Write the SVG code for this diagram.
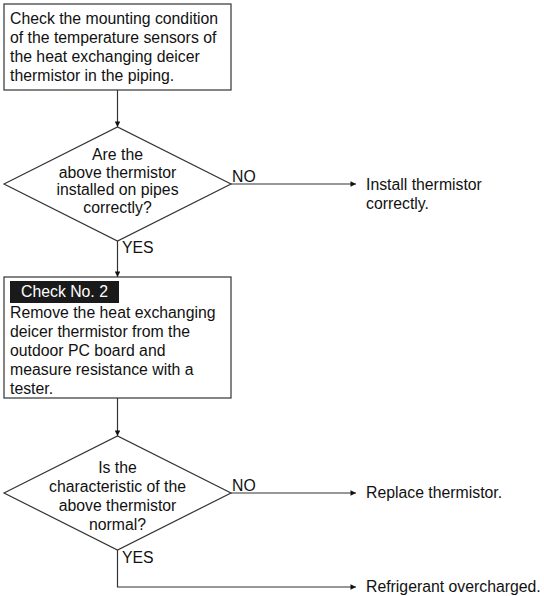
<svg xmlns="http://www.w3.org/2000/svg" width="544" height="596" viewBox="0 0 544 596">
<style>
text{font-family:"Liberation Sans",Arial,sans-serif;font-size:15.8px;fill:#111}
.c{text-anchor:middle}
.shape{fill:#fff;stroke:#333;stroke-width:1.2}
.ln{fill:none;stroke:#333;stroke-width:1.2}
</style>
<defs>
<marker id="ah" viewBox="0 0 10 10" refX="10" refY="5" markerWidth="8" markerHeight="5.5" markerUnits="userSpaceOnUse" orient="auto">
<path d="M0,0 L10,5 L0,10 z" fill="#111"/>
</marker>
</defs>
<rect width="544" height="596" fill="#fff"/>
<g id="connectors">
<line class="ln" x1="117.5" y1="90" x2="117.5" y2="127" marker-end="url(#ah)"/>
<line class="ln" x1="117.5" y1="241" x2="117.5" y2="277" marker-end="url(#ah)"/>
<line class="ln" x1="117.5" y1="398" x2="117.5" y2="436" marker-end="url(#ah)"/>
<line class="ln" x1="231" y1="184" x2="356" y2="184" marker-end="url(#ah)"/>
<line class="ln" x1="231" y1="493" x2="356" y2="493" marker-end="url(#ah)"/>
<polyline class="ln" points="117.5,550 117.5,587 356,587" marker-end="url(#ah)"/>
<text x="232" y="182">NO</text>
<text x="122" y="253">YES</text>
<text x="232" y="491">NO</text>
<text x="122" y="563">YES</text>
</g>
<g id="box1">
<rect class="shape" x="4" y="4" width="227" height="86"/>
<text x="10" y="24">Check the mounting condition</text>
<text x="10" y="43">of the temperature sensors of</text>
<text x="10" y="62">the heat exchanging deicer</text>
<text x="10" y="81">thermistor in the piping.</text>
</g>
<g id="decision1">
<polygon class="shape" points="4,184 117.5,127 231,184 117.5,241"/>
<text class="c" x="117.5" y="160">Are the</text>
<text class="c" x="117.5" y="177.5">above thermistor</text>
<text class="c" x="117.5" y="195">installed on pipes</text>
<text class="c" x="117.5" y="212.5">correctly?</text>
</g>
<g id="result1">
<text x="366" y="190">Install thermistor</text>
<text x="366" y="209">correctly.</text>
</g>
<g id="box2">
<rect class="shape" x="4" y="277" width="227" height="121"/>
<rect x="10" y="281" width="109" height="22" fill="#1a1a1a"/>
<text x="21" y="297" style="fill:#fff">Check No. 2</text>
<text x="10" y="318">Remove the heat exchanging</text>
<text x="10" y="337">deicer thermistor from the</text>
<text x="10" y="356">outdoor PC board and</text>
<text x="10" y="375">measure resistance with a</text>
<text x="10" y="394">tester.</text>
</g>
<g id="decision2">
<polygon class="shape" points="4,493 117.5,436 231,493 117.5,550"/>
<text class="c" x="117.5" y="473">Is the</text>
<text class="c" x="117.5" y="492">characteristic of the</text>
<text class="c" x="117.5" y="511">above thermistor</text>
<text class="c" x="117.5" y="530">normal?</text>
</g>
<g id="result2">
<text x="366" y="498">Replace thermistor.</text>
</g>
<g id="result3">
<text x="366" y="592">Refrigerant overcharged.</text>
</g>
</svg>
